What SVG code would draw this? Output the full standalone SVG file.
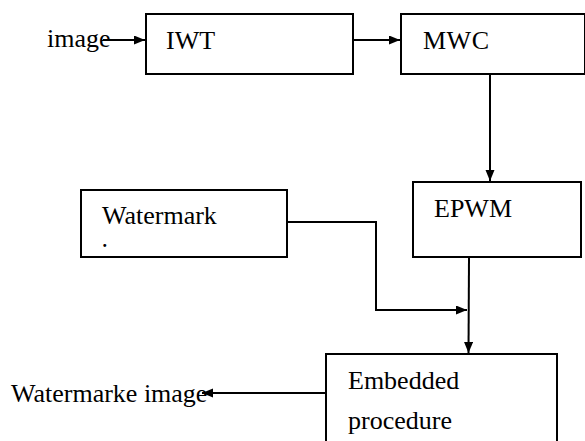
<svg xmlns="http://www.w3.org/2000/svg" width="585" height="441" viewBox="0 0 585 441">
<style>
.box{fill:#fff;stroke:#000;stroke-width:2}
text{font-family:'Liberation Serif','Times New Roman','DejaVu Serif',serif;font-size:26px;fill:#000}
.c{fill:none;stroke:#000;stroke-width:2}
</style>
<defs>
<marker id="ah" markerUnits="userSpaceOnUse" markerWidth="12" markerHeight="10" refX="11" refY="4.5" orient="auto">
<path d="M0,0 L11,4.5 L0,9 z" fill="#000"/>
</marker>
</defs>
<rect width="585" height="441" fill="#fff"/>
<g id="input"><text x="47" y="47">image</text></g>
<g id="iwt"><rect class="box" x="146" y="14" width="207" height="60"/><text x="166" y="49">IWT</text></g>
<g id="mwc"><rect class="box" x="401" y="14" width="184" height="60"/><text x="423" y="49" letter-spacing="0.5">MWC</text></g>
<g id="epwm"><rect class="box" x="413" y="182" width="168" height="75"/><text x="434" y="217">EPWM</text></g>
<g id="watermark"><rect class="box" x="81" y="190" width="206" height="67"/><text x="102" y="224">Watermark</text><text x="102.5" y="247" style="font-size:18px;font-weight:bold">.</text></g>
<g id="embedded"><rect class="box" x="326" y="354" width="231" height="100"/><text x="348" y="389">Embedded<tspan x="348" y="429">procedure</tspan></text></g>
<g id="output"><text x="11" y="402">Watermarke image</text></g>
<g id="connectors">
<line class="c" x1="103" y1="40" x2="145" y2="40" marker-end="url(#ah)"/>
<line class="c" x1="353" y1="40" x2="400" y2="40" marker-end="url(#ah)"/>
<line class="c" x1="490" y1="74" x2="490" y2="181" marker-end="url(#ah)"/>
<polyline class="c" points="287,222 376,222 376,310 467,310" marker-end="url(#ah)"/>
<line class="c" x1="469" y1="257" x2="468.5" y2="353" marker-end="url(#ah)"/>
<line class="c" x1="326" y1="393" x2="202" y2="393" marker-end="url(#ah)"/>
</g>
</svg>
